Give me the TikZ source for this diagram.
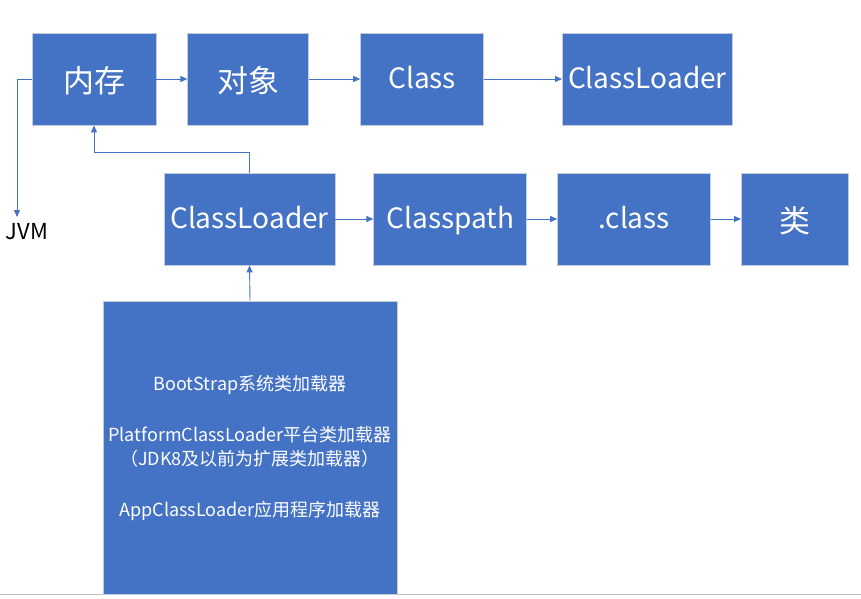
\documentclass[tikz,border=0pt]{standalone}
\usepackage{fontspec}
\setmainfont{Noto Sans CJK SC}
\usepackage{xcolor}
\usetikzlibrary{positioning, arrows.meta}
\definecolor{boxblue}{HTML}{4472C4}
\definecolor{boxedge}{HTML}{C3CCDB}
\definecolor{rulegray}{HTML}{BFBFBF}

\begin{document}
\begin{tikzpicture}[
    x=1pt, y=-1pt,
    node distance=31pt,
    plainbox/.style={draw=boxedge, fill=boxblue, line width=0.8pt, inner sep=0pt, text=white},
    box/.style={plainbox, minimum height=92pt, text height=22pt, text depth=4pt, font=\fontsize{28}{32}\selectfont},
    cjkbox/.style={box, text height=26pt, text depth=0pt, font=\fontsize{31}{34}\selectfont},
    arrow/.style={-{Triangle[length=7pt,width=6pt]}, draw=boxblue, line width=0.9pt},
    listtext/.style={font=\fontsize{18}{24}\selectfont, align=center},
]
\useasboundingbox (0,0) rectangle (861,598);

% Bottom rule
\draw[rulegray, line width=1pt] (0,594) -- (861,594);

% Top row
\node[cjkbox, minimum width=124pt] (mem) at (94,79) {内存};
\node[cjkbox, minimum width=121pt, right=31pt of mem] (obj) {对象};
\node[box, minimum width=123pt, right=51pt of obj] (cls) {Class};
\node[box, minimum width=170pt, right=78pt of cls] (ldrtop) {ClassLoader};

% Second row
\node[box, minimum width=171pt] (ldr) at (249.5,219) {ClassLoader};
\node[box, minimum width=153pt, right=38pt of ldr] (cpath) {Classpath};
\node[box, minimum width=153pt, right=30pt of cpath] (dotcls) {.class};
\node[cjkbox, minimum width=107pt, right=30pt of dotcls] (lei) {类};

% Loaders
\node[plainbox, minimum width=294pt, minimum height=293pt, listtext] (loaders) at (250,447.5)
    {BootStrap系统类加载器\\[27pt]
     PlatformClassLoader平台类加载器\\
     （JDK8及以前为扩展类加载器）\\[27pt]
     AppClassLoader应用程序加载器};

% JVM
\node[font=\fontsize{22}{26}\selectfont, inner sep=0pt] (jvm) at (27,232) {JVM};
\coordinate (jvmtip) at (17,217);

% Connections
\draw[arrow] (mem) -- (obj);
\draw[arrow] (obj) -- (cls);
\draw[arrow] (cls) -- (ldrtop);
\draw[arrow] (ldr) -- (cpath);
\draw[arrow] (cpath) -- (dotcls);
\draw[arrow] (dotcls) -- (lei);
\draw[arrow] (mem.west) -| (jvmtip);
\draw[arrow] (ldr.north) -- ++(0,-20) -| (mem.south);
\draw[arrow] (loaders.north) -- (ldr.south);

\end{tikzpicture}
\end{document}
